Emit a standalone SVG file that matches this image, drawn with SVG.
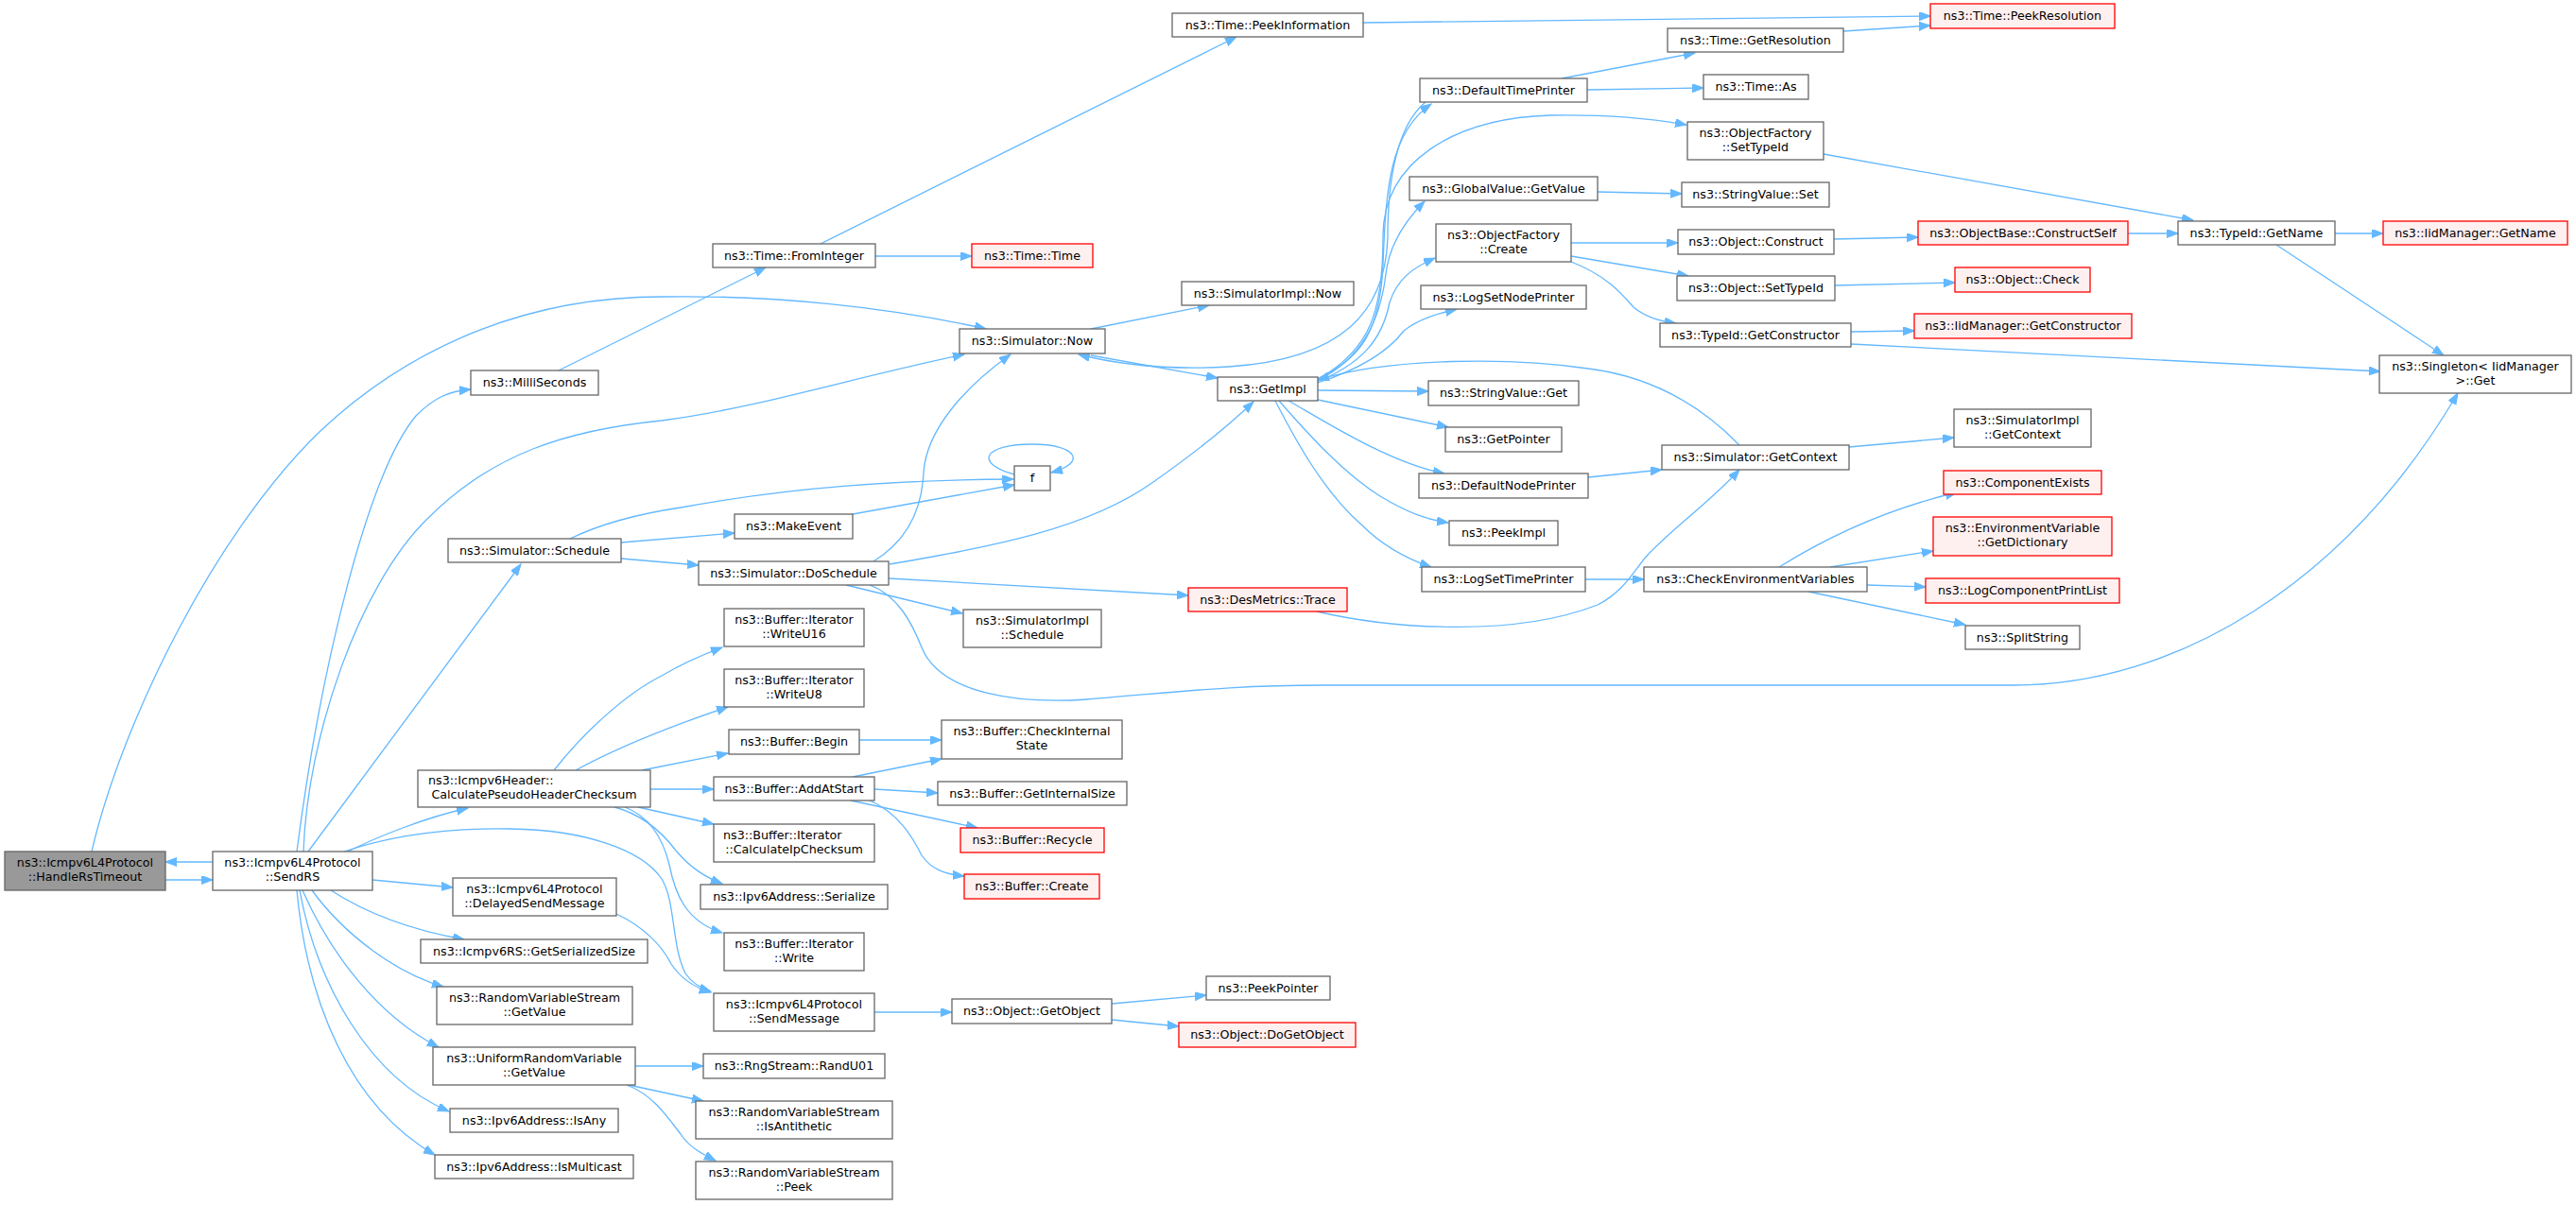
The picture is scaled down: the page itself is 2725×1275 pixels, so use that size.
<svg xmlns="http://www.w3.org/2000/svg" width="2725" height="1275" viewBox="0 0 2725 1275">
<style>
.bg{fill:#ffffff}
.node rect{fill:#ffffff;stroke:#666666;stroke-width:1.3}
.node.red rect{fill:#fff0f0;stroke:#ff0000}
.node.root rect{fill:#999999;stroke:#666666}
.node text{font-family:"DejaVu Sans",Verdana,sans-serif;font-size:12.7px;fill:#000000;text-anchor:middle}
.node text.l{text-anchor:start}
.edges path{fill:none;stroke:#63b8ff;stroke-width:1.3;marker-end:url(#ah)}
</style>
<defs>
<marker id="ah" markerUnits="userSpaceOnUse" markerWidth="13" markerHeight="10" refX="12" refY="4.5" orient="auto">
<path d="M0,0 L12,4.5 L0,9 z" fill="#63b8ff" stroke="#63b8ff" stroke-width="1"/>
</marker>
</defs>
<rect class="bg" x="0" y="0" width="2725" height="1275"/>
<g id="edges" class="edges">
<path d="M175,931 L225,931"/>
<path d="M225,912 L175,912"/>
<path d="M97,901 C130,760 230,560 340,455 C420,380 540,314 700,314 C820,312 940,325 1043,348"/>
<path d="M314,901 C340,700 390,500 440,440 C460,420 475,414 498,412"/>
<path d="M591,392 L810,283"/>
<path d="M868,258 L1308,39"/>
<path d="M926,271 L1028,271"/>
<path d="M1442,24 L2042,17"/>
<path d="M321,901 C325,780 380,620 451,550 C520,480 600,455 700,445 C800,432 900,400 1020,375"/>
<path d="M326,901 L551,597"/>
<path d="M368,901 C400,885 450,865 495,855"/>
<path d="M364,901 C420,882 480,876 540,877 C620,878 680,900 700,930 C715,955 710,1000 725,1030 C732,1040 742,1046 752,1049"/>
<path d="M394,931 L479,939"/>
<path d="M350,942 C390,968 440,985 491,994"/>
<path d="M330,942 C365,990 420,1030 469,1044"/>
<path d="M320,942 C350,1010 400,1075 464,1108"/>
<path d="M317,942 C335,1040 390,1140 475,1176"/>
<path d="M314,942 C325,1060 370,1170 460,1222"/>
<path d="M672,1128 L744,1128"/>
<path d="M665,1148 L744,1165"/>
<path d="M663,1148 C690,1158 705,1180 720,1200 C730,1215 745,1222 757,1228"/>
<path d="M603,570 C640,552 680,543 720,537 C840,515 950,508 1072,507"/>
<path d="M657,574 L777,564"/>
<path d="M657,591 L739,598"/>
<path d="M902,544 L1073,513"/>
<path d="M1073,502 C1030,490 1040,470 1092,470 C1140,470 1150,490 1112,500"/>
<path d="M924,594 C955,575 975,545 977,500 C980,455 1020,410 1069,375"/>
<path d="M941,597 C1050,578 1150,560 1220,510 C1270,475 1300,450 1326,425"/>
<path d="M940,612 L1257,630"/>
<path d="M895,619 L1018,649"/>
<path d="M920,619 C950,630 965,660 975,685 C995,735 1080,745 1150,740 C1250,732 1300,725 1400,725 L2130,725 C2300,725 2480,620 2600,416"/>
<path d="M1393,647 C1470,665 1600,675 1690,640 C1720,625 1730,600 1745,585 C1780,550 1810,530 1840,497"/>
<path d="M1154,348 L1279,323"/>
<path d="M1154,376 L1288,400"/>
<path d="M1508,108 C1475,135 1468,200 1468,250 C1466,330 1420,380 1300,388 C1230,392 1180,385 1141,375"/>
<path d="M1840,471 C1810,440 1760,400 1680,390 C1600,378 1470,378 1394,402"/>
<path d="M1393,401 C1440,380 1460,350 1463,280 C1466,200 1470,140 1514,110"/>
<path d="M1393,402 C1450,370 1463,330 1463,250 C1463,170 1540,125 1640,122 C1700,121 1750,126 1784,132"/>
<path d="M1393,403 C1440,380 1460,340 1466,290 C1470,255 1490,230 1507,213"/>
<path d="M1393,404 C1440,385 1462,360 1470,320 C1478,295 1495,283 1518,273"/>
<path d="M1394,405 C1440,390 1470,370 1485,350 C1500,338 1520,332 1541,327"/>
<path d="M1394,413 L1511,414"/>
<path d="M1394,423 L1532,452"/>
<path d="M1363,424 C1400,445 1470,490 1528,501"/>
<path d="M1353,424 C1380,455 1420,500 1460,525 C1490,543 1510,550 1532,553"/>
<path d="M1349,424 C1370,465 1400,520 1440,555 C1465,580 1490,592 1514,600"/>
<path d="M1652,83 L1793,56"/>
<path d="M1679,95 L1802,93"/>
<path d="M1950,33 L2042,27"/>
<path d="M1929,163 L2320,233"/>
<path d="M1690,203 L1779,205"/>
<path d="M1662,257 L1775,257"/>
<path d="M1662,271 L1786,292"/>
<path d="M1662,277 C1700,292 1715,310 1728,325 C1740,335 1755,340 1773,342"/>
<path d="M1940,253 L2029,251"/>
<path d="M1941,302 L2068,299"/>
<path d="M1958,351 L2025,350"/>
<path d="M1958,364 L2518,393"/>
<path d="M2251,247 L2304,247"/>
<path d="M2470,247 L2521,247"/>
<path d="M2408,259 L2585,376"/>
<path d="M1680,505 L1758,497"/>
<path d="M1677,613 L1739,613"/>
<path d="M1956,473 L2067,463"/>
<path d="M1882,600 C1930,570 1990,540 2070,521"/>
<path d="M1936,600 L2045,583"/>
<path d="M1975,619 L2037,621"/>
<path d="M1913,626 L2079,661"/>
<path d="M586,815 C615,778 660,735 700,715 C725,700 745,692 764,685"/>
<path d="M609,815 C640,798 690,775 770,748"/>
<path d="M679,815 L770,797"/>
<path d="M688,835 L755,835"/>
<path d="M675,854 L755,872"/>
<path d="M650,854 C680,862 700,880 715,900 C730,918 745,928 764,935"/>
<path d="M661,854 C690,865 702,890 708,915 C714,945 725,975 764,987"/>
<path d="M909,783 L996,783"/>
<path d="M902,822 L996,803"/>
<path d="M925,835 L992,839"/>
<path d="M900,847 L1034,876"/>
<path d="M920,847 C950,860 965,885 975,905 C985,920 1000,925 1020,927"/>
<path d="M652,967 C680,980 700,1000 710,1020 C720,1035 735,1045 752,1050"/>
<path d="M925,1071 L1007,1071"/>
<path d="M1176,1062 L1276,1053"/>
<path d="M1176,1079 L1247,1086"/>
</g>
<g id="n_HandleRsTimeout" class="node root"><rect x="5" y="901" width="170" height="41"/><text x="90" y="917">ns3::Icmpv6L4Protocol</text><text x="90" y="932">::HandleRsTimeout</text></g>
<g id="n_SendRS" class="node"><rect x="225" y="901" width="169" height="41"/><text x="309.5" y="917">ns3::Icmpv6L4Protocol</text><text x="309.5" y="932">::SendRS</text></g>
<g id="n_MilliSeconds" class="node"><rect x="498" y="392" width="135" height="26"/><text x="565.5" y="409">ns3::MilliSeconds</text></g>
<g id="n_Schedule" class="node"><rect x="474" y="570" width="183" height="25"/><text x="565.5" y="587">ns3::Simulator::Schedule</text></g>
<g id="n_CalcPseudo" class="node"><rect x="442" y="815" width="246" height="39"/><text class="l" x="453" y="830">ns3::Icmpv6Header::</text><text x="565" y="845">CalculatePseudoHeaderChecksum</text></g>
<g id="n_DelayedSendMessage" class="node"><rect x="479" y="929" width="173" height="40"/><text x="565.5" y="945">ns3::Icmpv6L4Protocol</text><text x="565.5" y="960">::DelayedSendMessage</text></g>
<g id="n_GetSerializedSize" class="node"><rect x="445" y="994" width="240" height="25"/><text x="565" y="1011">ns3::Icmpv6RS::GetSerializedSize</text></g>
<g id="n_RVSGetValue" class="node"><rect x="462" y="1044" width="207" height="40"/><text x="565.5" y="1060">ns3::RandomVariableStream</text><text x="565.5" y="1075">::GetValue</text></g>
<g id="n_URVGetValue" class="node"><rect x="458" y="1108" width="214" height="40"/><text x="565" y="1124">ns3::UniformRandomVariable</text><text x="565" y="1139">::GetValue</text></g>
<g id="n_IsAny" class="node"><rect x="476" y="1173" width="178" height="25"/><text x="565" y="1190">ns3::Ipv6Address::IsAny</text></g>
<g id="n_IsMulticast" class="node"><rect x="460" y="1222" width="210" height="25"/><text x="565" y="1239">ns3::Ipv6Address::IsMulticast</text></g>
<g id="n_PeekInformation" class="node"><rect x="1240" y="14" width="202" height="25"/><text x="1341" y="31">ns3::Time::PeekInformation</text></g>
<g id="n_FromInteger" class="node"><rect x="754" y="258" width="172" height="25"/><text x="840" y="275">ns3::Time::FromInteger</text></g>
<g id="n_TimeTime" class="node red"><rect x="1028" y="258" width="128" height="25"/><text x="1092" y="275">ns3::Time::Time</text></g>
<g id="n_Now" class="node"><rect x="1015" y="348" width="154" height="26"/><text x="1092" y="365">ns3::Simulator::Now</text></g>
<g id="n_SimImplNow" class="node"><rect x="1250" y="298" width="182" height="25"/><text x="1341" y="315">ns3::SimulatorImpl::Now</text></g>
<g id="n_GetImpl" class="node"><rect x="1288" y="399" width="106" height="25"/><text x="1341" y="416">ns3::GetImpl</text></g>
<g id="n_f" class="node"><rect x="1073" y="493" width="38" height="26"/><text x="1092" y="510">f</text></g>
<g id="n_MakeEvent" class="node"><rect x="777" y="544" width="125" height="26"/><text x="839.5" y="561">ns3::MakeEvent</text></g>
<g id="n_DoSchedule" class="node"><rect x="739" y="594" width="201" height="25"/><text x="839.5" y="611">ns3::Simulator::DoSchedule</text></g>
<g id="n_Trace" class="node red"><rect x="1257" y="622" width="168" height="25"/><text x="1341" y="639">ns3::DesMetrics::Trace</text></g>
<g id="n_SimImplSchedule" class="node"><rect x="1019" y="645" width="146" height="40"/><text x="1092" y="661">ns3::SimulatorImpl</text><text x="1092" y="676">::Schedule</text></g>
<g id="n_WriteU16" class="node"><rect x="766" y="644" width="148" height="40"/><text x="840" y="660">ns3::Buffer::Iterator</text><text x="840" y="675">::WriteU16</text></g>
<g id="n_WriteU8" class="node"><rect x="766" y="708" width="148" height="40"/><text x="840" y="724">ns3::Buffer::Iterator</text><text x="840" y="739">::WriteU8</text></g>
<g id="n_Begin" class="node"><rect x="771" y="772" width="138" height="26"/><text x="840" y="789">ns3::Buffer::Begin</text></g>
<g id="n_CheckInternalState" class="node"><rect x="996" y="762" width="191" height="41"/><text x="1091.5" y="778">ns3::Buffer::CheckInternal</text><text x="1091.5" y="793">State</text></g>
<g id="n_AddAtStart" class="node"><rect x="755" y="822" width="170" height="25"/><text x="840" y="839">ns3::Buffer::AddAtStart</text></g>
<g id="n_GetInternalSize" class="node"><rect x="992" y="827" width="200" height="25"/><text x="1092" y="844">ns3::Buffer::GetInternalSize</text></g>
<g id="n_CalcIpChecksum" class="node"><rect x="755" y="872" width="170" height="40"/><text class="l" x="765" y="888">ns3::Buffer::Iterator</text><text x="840" y="903">::CalculateIpChecksum</text></g>
<g id="n_Serialize" class="node"><rect x="741" y="936" width="198" height="26"/><text x="840" y="953">ns3::Ipv6Address::Serialize</text></g>
<g id="n_Write" class="node"><rect x="766" y="987" width="148" height="40"/><text x="840" y="1003">ns3::Buffer::Iterator</text><text x="840" y="1018">::Write</text></g>
<g id="n_SendMessage" class="node"><rect x="755" y="1051" width="170" height="40"/><text x="840" y="1067">ns3::Icmpv6L4Protocol</text><text x="840" y="1082">::SendMessage</text></g>
<g id="n_RandU01" class="node"><rect x="744" y="1115" width="192" height="26"/><text x="840" y="1132">ns3::RngStream::RandU01</text></g>
<g id="n_IsAntithetic" class="node"><rect x="736" y="1165" width="208" height="40"/><text x="840" y="1181">ns3::RandomVariableStream</text><text x="840" y="1196">::IsAntithetic</text></g>
<g id="n_Peek" class="node"><rect x="736" y="1229" width="208" height="40"/><text x="840" y="1245">ns3::RandomVariableStream</text><text x="840" y="1260">::Peek</text></g>
<g id="n_Recycle" class="node red"><rect x="1016" y="876" width="152" height="26"/><text x="1092" y="893">ns3::Buffer::Recycle</text></g>
<g id="n_BufferCreate" class="node red"><rect x="1020" y="925" width="143" height="26"/><text x="1091.5" y="942">ns3::Buffer::Create</text></g>
<g id="n_GetObject" class="node"><rect x="1007" y="1057" width="169" height="26"/><text x="1091.5" y="1074">ns3::Object::GetObject</text></g>
<g id="n_PeekPointer" class="node"><rect x="1276" y="1033" width="131" height="25"/><text x="1341.5" y="1050">ns3::PeekPointer</text></g>
<g id="n_DoGetObject" class="node red"><rect x="1247" y="1082" width="187" height="26"/><text x="1340.5" y="1099">ns3::Object::DoGetObject</text></g>
<g id="n_DefaultTimePrinter" class="node"><rect x="1502" y="83" width="177" height="25"/><text x="1590.5" y="100">ns3::DefaultTimePrinter</text></g>
<g id="n_GetResolution" class="node"><rect x="1764" y="30" width="186" height="25"/><text x="1857" y="47">ns3::Time::GetResolution</text></g>
<g id="n_TimeAs" class="node"><rect x="1802" y="79" width="111" height="26"/><text x="1857.5" y="96">ns3::Time::As</text></g>
<g id="n_OFSetTypeId" class="node"><rect x="1785" y="129" width="144" height="40"/><text x="1857" y="145">ns3::ObjectFactory</text><text x="1857" y="160">::SetTypeId</text></g>
<g id="n_GlobalValueGetValue" class="node"><rect x="1491" y="187" width="199" height="25"/><text x="1590.5" y="204">ns3::GlobalValue::GetValue</text></g>
<g id="n_StringValueSet" class="node"><rect x="1779" y="193" width="156" height="26"/><text x="1857" y="210">ns3::StringValue::Set</text></g>
<g id="n_OFCreate" class="node"><rect x="1519" y="237" width="143" height="40"/><text x="1590.5" y="253">ns3::ObjectFactory</text><text x="1590.5" y="268">::Create</text></g>
<g id="n_Construct" class="node"><rect x="1775" y="243" width="165" height="26"/><text x="1857.5" y="260">ns3::Object::Construct</text></g>
<g id="n_ObjSetTypeId" class="node"><rect x="1774" y="292" width="167" height="26"/><text x="1857.5" y="309">ns3::Object::SetTypeId</text></g>
<g id="n_GetConstructor" class="node"><rect x="1756" y="342" width="202" height="25"/><text x="1857" y="359">ns3::TypeId::GetConstructor</text></g>
<g id="n_LogSetNodePrinter" class="node"><rect x="1503" y="302" width="175" height="25"/><text x="1590.5" y="319">ns3::LogSetNodePrinter</text></g>
<g id="n_StringValueGet" class="node"><rect x="1511" y="403" width="159" height="26"/><text x="1590.5" y="420">ns3::StringValue::Get</text></g>
<g id="n_ConstructSelf" class="node red"><rect x="2029" y="234" width="222" height="25"/><text x="2140" y="251">ns3::ObjectBase::ConstructSelf</text></g>
<g id="n_Check" class="node red"><rect x="2068" y="283" width="143" height="26"/><text x="2139.5" y="300">ns3::Object::Check</text></g>
<g id="n_IidGetConstructor" class="node red"><rect x="2025" y="332" width="230" height="26"/><text x="2140" y="349">ns3::IidManager::GetConstructor</text></g>
<g id="n_PeekResolution" class="node red"><rect x="2042" y="4" width="195" height="26"/><text x="2139.5" y="21">ns3::Time::PeekResolution</text></g>
<g id="n_TypeIdGetName" class="node"><rect x="2304" y="234" width="166" height="25"/><text x="2387" y="251">ns3::TypeId::GetName</text></g>
<g id="n_IidGetName" class="node red"><rect x="2521" y="234" width="195" height="25"/><text x="2618.5" y="251">ns3::IidManager::GetName</text></g>
<g id="n_SingletonGet" class="node"><rect x="2517" y="376" width="203" height="40"/><text x="2618.5" y="392">ns3::Singleton&lt; IidManager</text><text x="2618.5" y="407">&gt;::Get</text></g>
<g id="n_GetPointer" class="node"><rect x="1529" y="452" width="123" height="26"/><text x="1590.5" y="469">ns3::GetPointer</text></g>
<g id="n_DefaultNodePrinter" class="node"><rect x="1501" y="501" width="179" height="26"/><text x="1590.5" y="518">ns3::DefaultNodePrinter</text></g>
<g id="n_PeekImpl" class="node"><rect x="1533" y="551" width="115" height="26"/><text x="1590.5" y="568">ns3::PeekImpl</text></g>
<g id="n_LogSetTimePrinter" class="node"><rect x="1504" y="600" width="173" height="26"/><text x="1590.5" y="617">ns3::LogSetTimePrinter</text></g>
<g id="n_SimGetContext" class="node"><rect x="1758" y="471" width="198" height="26"/><text x="1857" y="488">ns3::Simulator::GetContext</text></g>
<g id="n_CheckEnv" class="node"><rect x="1739" y="600" width="236" height="26"/><text x="1857" y="617">ns3::CheckEnvironmentVariables</text></g>
<g id="n_SimImplGetContext" class="node"><rect x="2067" y="433" width="145" height="40"/><text x="2139.5" y="449">ns3::SimulatorImpl</text><text x="2139.5" y="464">::GetContext</text></g>
<g id="n_ComponentExists" class="node red"><rect x="2056" y="498" width="167" height="25"/><text x="2139.5" y="515">ns3::ComponentExists</text></g>
<g id="n_GetDictionary" class="node red"><rect x="2045" y="547" width="189" height="41"/><text x="2139.5" y="563">ns3::EnvironmentVariable</text><text x="2139.5" y="578">::GetDictionary</text></g>
<g id="n_LogComponentPrintList" class="node red"><rect x="2037" y="612" width="205" height="26"/><text x="2139.5" y="629">ns3::LogComponentPrintList</text></g>
<g id="n_SplitString" class="node"><rect x="2079" y="662" width="121" height="25"/><text x="2139.5" y="679">ns3::SplitString</text></g>
</svg>
